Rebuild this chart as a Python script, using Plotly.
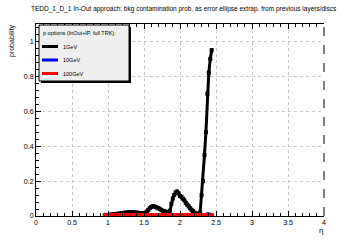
import plotly.graph_objects as go

# ---- data ----
eta = [0.96, 0.98, 1.00, 1.02, 1.04, 1.06, 1.08, 1.10, 1.12, 1.14, 1.16, 1.18, 1.20, 1.22, 1.24,
       1.26, 1.28, 1.30, 1.32, 1.34, 1.36, 1.38, 1.40, 1.42, 1.44, 1.46, 1.48, 1.50, 1.52, 1.54,
       1.56, 1.58, 1.60, 1.62, 1.64, 1.66, 1.68, 1.70, 1.72, 1.74, 1.76, 1.78, 1.80, 1.82, 1.84,
       1.86, 1.88, 1.90, 1.92, 1.94, 1.96, 1.98, 2.00, 2.02, 2.04, 2.06, 2.08, 2.10, 2.12, 2.14,
       2.16, 2.18, 2.20, 2.22, 2.24, 2.26, 2.28, 2.30, 2.32, 2.34, 2.36, 2.38, 2.40, 2.42, 2.44]
p_1gev = [0.004, 0.005, 0.006, 0.007, 0.008, 0.009, 0.010, 0.011, 0.012, 0.013, 0.014, 0.015, 0.016, 0.018, 0.019,
          0.020, 0.021, 0.022, 0.022, 0.021, 0.020, 0.020, 0.019, 0.018, 0.017, 0.017, 0.016, 0.016, 0.018, 0.025,
          0.035, 0.045, 0.052, 0.056, 0.055, 0.052, 0.048, 0.045, 0.040, 0.035, 0.030, 0.028, 0.025, 0.022, 0.020,
          0.030, 0.070, 0.100, 0.120, 0.135, 0.140, 0.130, 0.115, 0.110, 0.100, 0.090, 0.075, 0.065, 0.055, 0.045,
          0.035, 0.028, 0.020, 0.015, 0.012, 0.010, 0.020, 0.120, 0.200, 0.350, 0.480, 0.700, 0.820, 0.900, 0.950]
err_1gev = [0.002, 0.002, 0.002, 0.002, 0.002, 0.002, 0.003, 0.003, 0.003, 0.003, 0.003, 0.003, 0.003, 0.003, 0.003,
            0.003, 0.003, 0.003, 0.003, 0.003, 0.003, 0.003, 0.003, 0.003, 0.003, 0.003, 0.003, 0.003, 0.003, 0.004,
            0.005, 0.006, 0.007, 0.007, 0.007, 0.007, 0.006, 0.006, 0.006, 0.005, 0.005, 0.005, 0.004, 0.004, 0.004,
            0.005, 0.008, 0.010, 0.011, 0.012, 0.012, 0.012, 0.011, 0.011, 0.010, 0.010, 0.009, 0.008, 0.008, 0.007,
            0.006, 0.005, 0.004, 0.004, 0.003, 0.003, 0.005, 0.012, 0.015, 0.020, 0.020, 0.020, 0.018, 0.015, 0.012]
p_10gev = [0.0] * 70 + [0.005, 0.008, 0.008, 0.006, 0.004]
p_100gev = [0.0] * 75

series_names = ["1GeV", "10GeV", "100GeV"]
series_colors = ["#000000", "#0000ff", "#ff0000"]
legend_header = "p options (InOut+IP, full TRK):"
title_text = "TEDD_1_D_1 In-Out approach: bkg contamination prob. as error ellipse extrap. from previous layers/discs"

# ---- geometry helpers (pixels -> paper) ----
L, R, T, B = 36, 36, 24, 24
W, H = 360, 240
PW, PH = W - L - R, H - T - B


def px(x):
    return (x - L) / PW


def py(y):
    return (H - B - y) / PH


fig = go.Figure()
fig.add_trace(go.Scatter(x=eta, y=p_1gev, mode="lines+markers", name=series_names[0],
                         line=dict(color=series_colors[0], width=3),
                         marker=dict(symbol="square", size=4, color=series_colors[0]),
                         error_y=dict(type="data", array=err_1gev, color=series_colors[0], thickness=2, width=0),
                         showlegend=False))
fig.add_trace(go.Scatter(x=eta, y=p_10gev, mode="lines+markers", name=series_names[1],
                         line=dict(color=series_colors[1], width=4),
                         marker=dict(symbol="square", size=4, color=series_colors[1]),
                         showlegend=False))
fig.add_trace(go.Scatter(x=eta, y=p_100gev, mode="lines+markers", name=series_names[2],
                         line=dict(color=series_colors[2], width=5),
                         marker=dict(symbol="square", size=5, color=series_colors[2]),
                         showlegend=False))

font_family = "Liberation Sans, Arial, sans-serif"
grid_col = "#c8c8c8"

fig.update_layout(
    width=W, height=H, margin=dict(l=L, r=R, t=T, b=B),
    paper_bgcolor="white", plot_bgcolor="white",
    font=dict(family=font_family, size=7, color="black"),
    xaxis=dict(range=[0, 4], dtick=0.5, tick0=0, showgrid=True, gridcolor=grid_col, griddash="dot",
               gridwidth=1, zeroline=False, showline=True, linecolor="black", linewidth=1,
               mirror="ticks", ticks="inside", ticklen=5, tickcolor="black",
               minor=dict(dtick=0.1, ticks="inside", ticklen=3, tickcolor="black", showgrid=False),
               tickfont=dict(size=7)),
    yaxis=dict(range=[0, 1.1], dtick=0.2, tick0=0, showgrid=True, gridcolor=grid_col, griddash="dot",
               gridwidth=1, zeroline=False, showline=True, linecolor="black", linewidth=1,
               mirror=False, ticks="inside", ticklen=5, tickcolor="black",
               minor=dict(dtick=0.04, ticks="inside", ticklen=3, tickcolor="black", showgrid=False),
               tickfont=dict(size=7)),
)

shapes = []
# dashed right frame edge
shapes.append(dict(type="line", xref="paper", yref="paper", x0=1, x1=1, y0=0, y1=1,
                   line=dict(color="black", width=1, dash="dash")))
# legend box with shadow
lx0, lx1, ly0, ly1 = 39, 129, 25, 81
shapes.append(dict(type="rect", xref="paper", yref="paper", x0=px(lx0 + 2), x1=px(lx1 + 2),
                   y0=py(ly1 + 2), y1=py(ly0 + 2), fillcolor="black", line=dict(width=0), layer="above"))
shapes.append(dict(type="rect", xref="paper", yref="paper", x0=px(lx0), x1=px(lx1),
                   y0=py(ly1), y1=py(ly0), fillcolor="#efefef", line=dict(color="black", width=1), layer="above"))
entry_y = [46.5, 60, 73.5]
for c, yy in zip(series_colors, entry_y):
    shapes.append(dict(type="line", xref="paper", yref="paper", x0=px(42), x1=px(58), y0=py(yy), y1=py(yy),
                       line=dict(color=c, width=3), layer="above"))
fig.update_layout(shapes=shapes)

ann = []
ann.append(dict(text=title_text, xref="paper", yref="paper", x=px(184), y=py(9), xanchor="center",
                yanchor="middle", showarrow=False, font=dict(size=6.5)))
ann.append(dict(text=legend_header, xref="paper", yref="paper", x=px(40.5), y=py(33.5), xanchor="left",
                yanchor="middle", showarrow=False, font=dict(size=5.5)))
for n, yy in zip(series_names, entry_y):
    ann.append(dict(text=n, xref="paper", yref="paper", x=px(61), y=py(yy), xanchor="left",
                    yanchor="middle", showarrow=False, font=dict(size=5.5)))
ann.append(dict(text="probability", xref="paper", yref="paper", x=px(12), y=py(23), xanchor="center",
                yanchor="top", textangle=-90, showarrow=False, font=dict(size=7)))
ann.append(dict(text="η", xref="paper", yref="paper", x=px(321), y=py(230), xanchor="center",
                yanchor="middle", showarrow=False, font=dict(size=8)))
fig.update_layout(annotations=ann)

fig.write_html("out.html")
